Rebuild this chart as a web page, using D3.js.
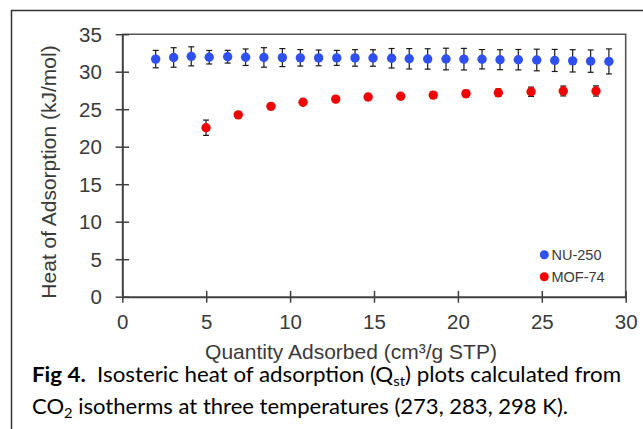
<!DOCTYPE html>
<html>
<head>
<meta charset="utf-8">
<script src="https://cdn.jsdelivr.net/npm/d3@7/dist/d3.min.js"></script>
<style>
  html, body { margin: 0; padding: 0; background: #fff; }
  svg { display: block; }
</style>
</head>
<body>
<svg id="chart" width="643" height="429"></svg>
<script>
// ---- Data ----
const xTicks = [0, 5, 10, 15, 20, 25, 30];
const yTicks = [0, 5, 10, 15, 20, 25, 30, 35];

const nuX = [1.99, 3.06, 4.11, 5.18, 6.28, 7.35, 8.44, 9.54, 10.61, 11.70, 12.78, 13.87, 14.94,
             16.05, 17.10, 18.20, 19.29, 20.36, 21.44, 22.51, 23.60, 24.70, 25.77, 26.84, 27.91, 29.00];
const nuY = [31.68, 31.90, 32.05, 31.93, 32.00, 31.93, 31.90, 31.88, 31.85, 31.84, 31.84, 31.84, 31.83,
             31.79, 31.72, 31.70, 31.69, 31.67, 31.66, 31.60, 31.60, 31.56, 31.50, 31.45, 31.41, 31.37];
const nuErr = [1.16, 1.30, 1.27, 0.90, 0.85, 1.10, 1.30, 1.20, 1.10, 1.05, 1.00, 1.10, 1.10,
               1.30, 1.36, 1.36, 1.44, 1.44, 1.29, 1.33, 1.36, 1.44, 1.47, 1.49, 1.49, 1.67];

const mofX = [4.99, 6.91, 8.86, 10.77, 12.72, 14.65, 16.59, 18.53, 20.48, 22.41, 24.36, 26.28, 28.23];
const mofY = [22.53, 24.25, 25.38, 25.93, 26.35, 26.62, 26.73, 26.88, 27.07, 27.20, 27.33, 27.43, 27.43];
const mofErr = [1.02, 0.30, 0.30, 0.30, 0.30, 0.30, 0.30, 0.40, 0.45, 0.50, 0.62, 0.66, 0.68];

const seriesNames = ["NU-250", "MOF-74"];
const seriesColors = ["#2f50f2", "#f50000"];

const xTitle = "Quantity Adsorbed (cm³/g STP)";
const yTitle = "Heat of Adsorption (kJ/mol)";

// ---- Drawing ----
const svg = d3.select("#chart");
const font = "'Liberation Sans', Arial, Helvetica, sans-serif";
const axisColor = "#404040";
const textColor = "#3a3a3a";

// outer figure frame (extends beyond right/bottom edges)
svg.append("rect")
  .attr("x", 11.5).attr("y", 10.5).attr("width", 700).attr("height", 500)
  .attr("fill", "none").attr("stroke", "#333").attr("stroke-width", 1.5);

const x = d3.scaleLinear().domain([0, 30]).range([122.3, 625.7]);
const y = d3.scaleLinear().domain([0, 35]).range([296.7, 34.2]);

// plot frame top/right
svg.append("path")
  .attr("d", `M${x(0)},${y(35)}H${x(30)}V${y(0)}`)
  .attr("fill", "none").attr("stroke", "#555").attr("stroke-width", 1.6);

// y axis
const gy = svg.append("g").attr("transform", `translate(${x(0)},0)`)
  .call(d3.axisLeft(y).tickValues(yTicks).tickSize(6.7).tickSizeOuter(0));
gy.select(".domain").attr("stroke", axisColor).attr("stroke-width", 2);
gy.selectAll(".tick line").attr("x1", -6.7).attr("x2", 6.7)
  .attr("stroke", axisColor).attr("stroke-width", 1.5);
gy.selectAll(".tick text").attr("x", -20.5).attr("dy", "0.35em")
  .attr("fill", textColor).style("font-family", font).style("font-size", "20.5px");

// x axis
const gx = svg.append("g").attr("transform", `translate(0,${y(0)})`)
  .call(d3.axisBottom(x).tickValues(xTicks).tickSize(6).tickSizeOuter(0));
gx.select(".domain").attr("stroke", axisColor).attr("stroke-width", 2);
gx.selectAll(".tick line").attr("y1", -5.8).attr("y2", 6)
  .attr("stroke", axisColor).attr("stroke-width", 1.5);
gx.selectAll(".tick text").attr("y", 25.5).attr("dy", "0.35em")
  .attr("fill", textColor).style("font-family", font).style("font-size", "20.5px");

// axis titles
svg.append("text")
  .attr("x", 351).attr("y", 358.5)
  .attr("text-anchor", "middle")
  .attr("fill", textColor).style("font-family", font).style("font-size", "21px")
  .text(xTitle);

svg.append("text")
  .attr("transform", `translate(55.5,172) rotate(-90)`)
  .attr("text-anchor", "middle")
  .attr("fill", textColor).style("font-family", font).style("font-size", "21px")
  .text(yTitle);

// series
function drawSeries(xs, ys, es, color) {
  const data = xs.map((d, i) => ({ x: d, y: ys[i], e: es[i] }));
  const g = svg.append("g");
  const eb = g.selectAll("g.eb").data(data).join("g").attr("class", "eb")
    .attr("stroke", "#1a1a1a").attr("stroke-width", 1.2);
  eb.append("line")
    .attr("x1", d => x(d.x)).attr("x2", d => x(d.x))
    .attr("y1", d => y(d.y + d.e)).attr("y2", d => y(d.y - d.e));
  eb.append("line")
    .attr("x1", d => x(d.x) - 3).attr("x2", d => x(d.x) + 3)
    .attr("y1", d => y(d.y + d.e)).attr("y2", d => y(d.y + d.e));
  eb.append("line")
    .attr("x1", d => x(d.x) - 3).attr("x2", d => x(d.x) + 3)
    .attr("y1", d => y(d.y - d.e)).attr("y2", d => y(d.y - d.e));
  g.selectAll("circle").data(data).join("circle")
    .attr("cx", d => x(d.x)).attr("cy", d => y(d.y)).attr("r", 4.7)
    .attr("fill", color);
}
drawSeries(nuX, nuY, nuErr, seriesColors[0]);
drawSeries(mofX, mofY, mofErr, seriesColors[1]);

// legend
const legend = svg.append("g");
seriesNames.forEach((name, i) => {
  const ly = 254.7 + i * 22;
  legend.append("circle").attr("cx", 544.3).attr("cy", ly).attr("r", 4.5).attr("fill", seriesColors[i]);
  legend.append("text").attr("x", 551.5).attr("y", ly).attr("dy", "0.36em")
    .attr("fill", textColor).style("font-family", font).style("font-size", "14.5px")
    .text(name);
});

// caption
const capFont = "Lato, 'Open Sans', 'Liberation Sans', sans-serif";
const cap1 = svg.append("text").attr("x", 32).attr("y", 382)
  .attr("fill", "#000").style("font-family", capFont).style("font-size", "21px")
  .attr("textLength", 589).attr("lengthAdjust", "spacingAndGlyphs");
cap1.append("tspan").style("font-weight", "bold").text("Fig 4.");
cap1.append("tspan").attr("xml:space", "preserve").text("\u00a0 Isosteric heat of adsorption (Q");
cap1.append("tspan").attr("dy", 4).style("font-size", "14px").text("st");
cap1.append("tspan").attr("dy", -4).text(") plots calculated from");

const cap2 = svg.append("text").attr("x", 32).attr("y", 414)
  .attr("fill", "#000").style("font-family", capFont).style("font-size", "21px")
  .attr("textLength", 536).attr("lengthAdjust", "spacingAndGlyphs");
cap2.append("tspan").text("CO");
cap2.append("tspan").attr("dy", 4).style("font-size", "14px").text("2");
cap2.append("tspan").attr("dy", -4).text(" isotherms at three temperatures (273, 283, 298 K).");
</script>
</body>
</html>
